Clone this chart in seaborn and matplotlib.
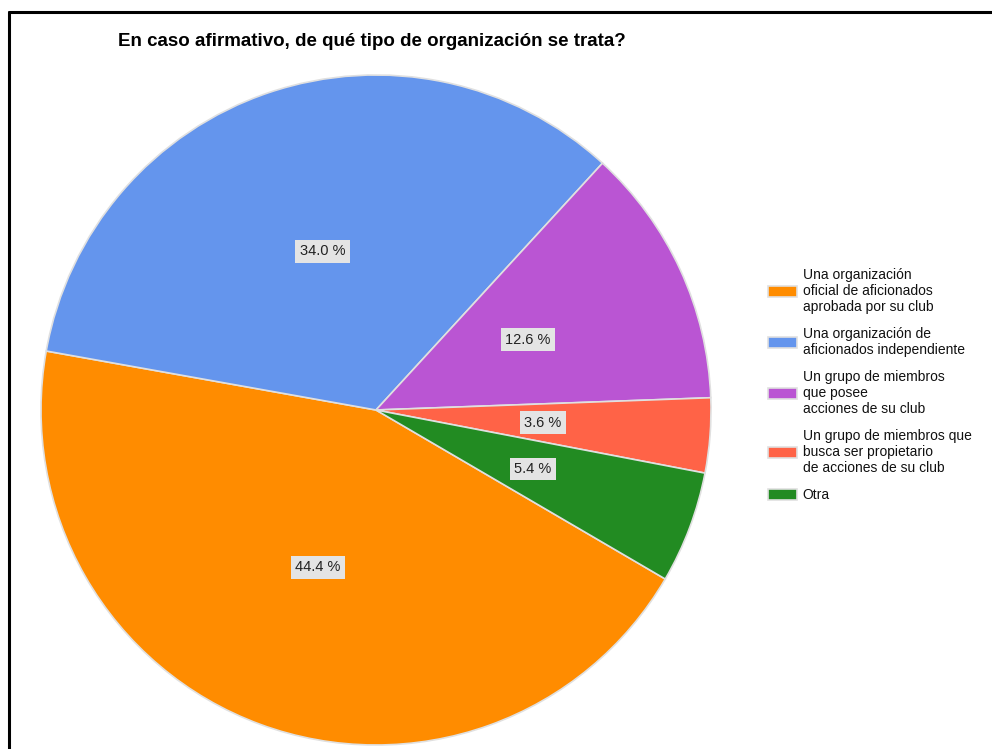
import matplotlib
matplotlib.use("Agg")
import matplotlib.pyplot as plt
from matplotlib.lines import Line2D
import seaborn as sns

categories = [
    "Una organización\noficial de aficionados\naprobada por su club",
    "Una organización de\naficionados independiente",
    "Un grupo de miembros\nque posee\nacciones de su club",
    "Un grupo de miembros que\nbusca ser propietario\nde acciones de su club",
    "Otra",
]
shares = [44.4, 34.0, 12.6, 3.6, 5.4]
colors = ["#FF8C00", "#6495ED", "#BA55D3", "#FF6347", "#228B22"]
title = "En caso afirmativo, de qué tipo de organización se trata?"

sns.set_theme(style="white")
plt.rcParams["font.family"] = ["Liberation Sans", "DejaVu Sans"]

fig = plt.figure(figsize=(9.92, 7.49), dpi=100)
W, H = 992, 749

# pie axes: centre (376, 410) px, radius 335 px
cx, cy, r = 376, 410, 335
ax = fig.add_axes([(cx - r) / W, (H - cy - r) / H, 2 * r / W, 2 * r / H])

wedges, texts, autotexts = ax.pie(
    shares,
    colors=colors,
    startangle=-30.3,
    counterclock=False,
    autopct="%1.1f %%",
    pctdistance=0.5,
    radius=1.0,
    wedgeprops=dict(edgecolor="#e0e0e0", linewidth=1.2),
    textprops=dict(fontsize=10.5, color="#222222"),
)
for t in autotexts:
    t.set_bbox(dict(facecolor="#e4e4e4", edgecolor="none", boxstyle="square,pad=0.3"))
ax.set_xlim(-1, 1)
ax.set_ylim(-1, 1)
ax.set_aspect("equal")
ax.axis("off")

fig.text(118 / W, 1 - 42 / H, title, fontsize=13.5, fontweight="bold",
         ha="left", va="center", color="black")

leg = fig.legend(
    wedges, categories,
    loc="center left", bbox_to_anchor=(768 / W, 1 - 385 / H),
    frameon=False, fontsize=10, handlelength=2.1, handleheight=0.85,
    handletextpad=0.4, labelspacing=0.95, borderpad=0, borderaxespad=0,
    labelcolor="#111111",
)
for t in leg.get_texts():
    t.set_linespacing(1.18)

# outer frame (only top and left visible in the crop)
fig.add_artist(Line2D([9 / W, 9 / W], [0, 1 - 12 / H], color="black", linewidth=2.2))
fig.add_artist(Line2D([9 / W, 1], [1 - 12 / H, 1 - 12 / H], color="black", linewidth=2.2))

fig.savefig("out.png", dpi=100, facecolor="white")
